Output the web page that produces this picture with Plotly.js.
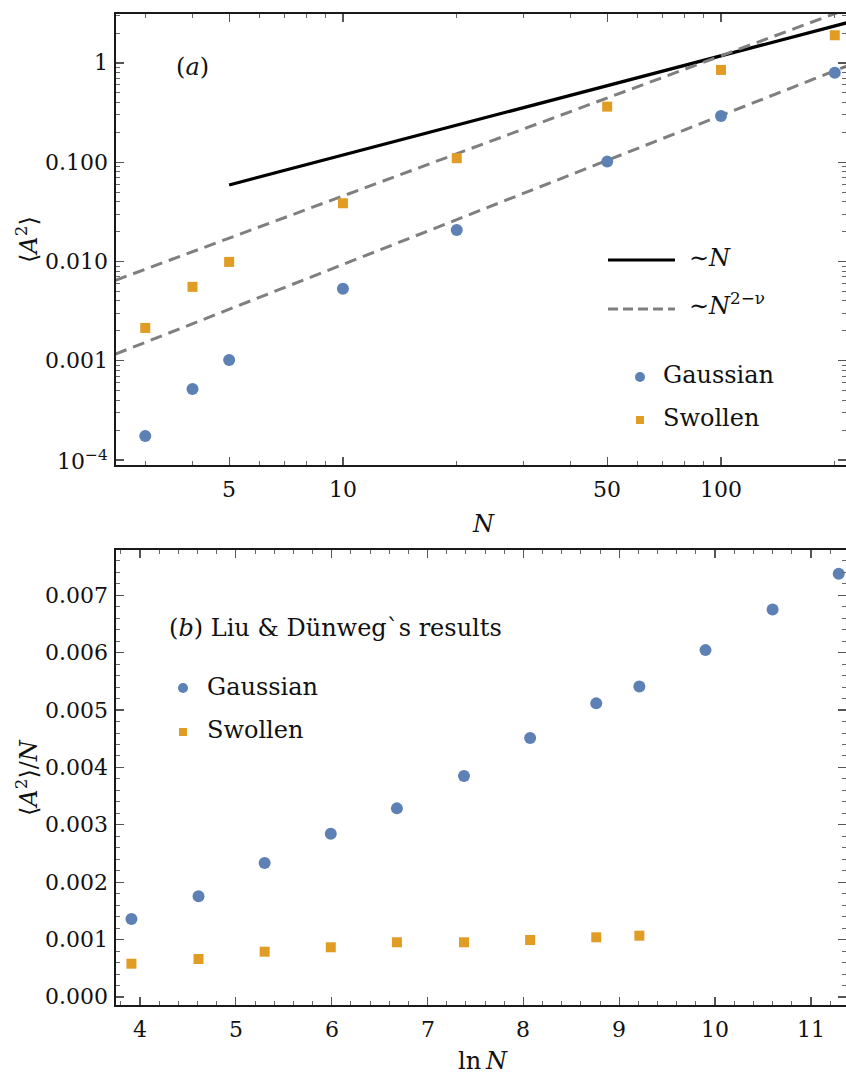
<!DOCTYPE html>
<html>
<head>
<meta charset="utf-8">
<script src="https://cdn.plot.ly/plotly-3.0.1.min.js"></script>
<style>
  html, body { margin: 0; padding: 0; background: #fff; }
  #chart { width: 846px; height: 1077px; }
</style>
</head>
<body>
<div id="chart"></div>
<script>
// ---- Panel (a): mean squared area versus chain length N ----
const chainN = [3, 4, 5, 10, 20, 50, 100, 200];
const gaussianA2 = [1.75e-4, 5.2e-4, 1.02e-3, 5.3e-3, 0.0208, 0.1014, 0.292, 0.798];
const swollenA2 = [2.14e-3, 5.55e-3, 9.9e-3, 0.0386, 0.1097, 0.363, 0.850, 1.90];

// guide lines: ~N and ~N^(2-nu), given by their end points
const linearGuideN = [5, 220];
const linearGuideA2 = [0.059, 2.596];
const swollenGuideN = [2.5, 220];
const swollenGuideA2 = [6.46e-3, 3.59];
const gaussGuideN = [2.5, 220];
const gaussGuideA2 = [1.166e-3, 0.963];

// ---- Panel (b): Liu & Duenweg results, <A^2>/N versus ln N ----
const lnN = [3.91, 4.61, 5.30, 5.99, 6.68, 7.38, 8.07, 8.76, 9.21, 9.90, 10.60, 11.29];
const gaussianPerN = [1.359e-3, 1.754e-3, 2.334e-3, 2.845e-3, 3.287e-3, 3.850e-3,
                      4.512e-3, 5.117e-3, 5.413e-3, 6.045e-3, 6.754e-3, 7.375e-3];
const lnNSwollen = [3.91, 4.61, 5.30, 5.99, 6.68, 7.38, 8.07, 8.76, 9.21];
const swollenPerN = [0.580e-3, 0.662e-3, 0.789e-3, 0.866e-3, 0.953e-3, 0.953e-3,
                     0.993e-3, 1.040e-3, 1.068e-3];

// tick values and labels
const topXTicks = [5, 10, 50, 100];
const topXTickText = ['5', '10', '50', '100'];
const topXMinor = [3, 4, 6, 7, 8, 9, 20, 30, 40, 60, 70, 80, 90, 200];
const topYTicks = [1e-4, 1e-3, 1e-2, 0.1, 1];
const topYTickText = ['10<sup>\u22124</sup>', '0.001', '0.010', '0.100', '1'];
const botXTicks = [4, 5, 6, 7, 8, 9, 10, 11];
const botXTickText = ['4', '5', '6', '7', '8', '9', '10', '11'];
const botYTicks = [0, 0.001, 0.002, 0.003, 0.004, 0.005, 0.006, 0.007];
const botYTickText = ['0.000', '0.001', '0.002', '0.003', '0.004', '0.005', '0.006', '0.007'];

// minor ticks on the log axis: 2..9 in every decade
const topYMinor = [];
[1e-4, 1e-3, 1e-2, 0.1, 1].forEach(d => {
  for (let k = 2; k <= 9; k++) topYMinor.push(k * d);
});

// ---- styles ----
const BLUE = '#5E81B5';
const ORANGE = '#E19C24';
const GREY = '#7f7f7f';
const SERIF = 'DejaVu Serif';
const TICKFONT = { family: SERIF, size: 22, color: '#111' };
const TEXTFONT = { family: SERIF, size: 24, color: '#111' };

// page geometry (pixels) -> paper fractions
const W = 846, H = 1077, ML = 116, MR = 0, MT = 14, MB = 72;
const PW = W - ML - MR, PH = H - MT - MB;
const px = x => (x - ML) / PW;
const py = y => (H - MB - y) / PH;

const traces = [
  { x: linearGuideN, y: linearGuideA2, xaxis: 'x', yaxis: 'y', mode: 'lines',
    line: { color: '#000', width: 3.2 }, hoverinfo: 'skip' },
  { x: swollenGuideN, y: swollenGuideA2, xaxis: 'x', yaxis: 'y', mode: 'lines',
    line: { color: GREY, width: 3, dash: '12px,7px' }, hoverinfo: 'skip' },
  { x: gaussGuideN, y: gaussGuideA2, xaxis: 'x', yaxis: 'y', mode: 'lines',
    line: { color: GREY, width: 3, dash: '12px,7px' }, hoverinfo: 'skip' },
  { x: chainN, y: swollenA2, xaxis: 'x', yaxis: 'y', mode: 'markers', name: 'Swollen',
    marker: { symbol: 'square', size: 10, color: ORANGE } },
  { x: chainN, y: gaussianA2, xaxis: 'x', yaxis: 'y', mode: 'markers', name: 'Gaussian',
    marker: { symbol: 'circle', size: 12, color: BLUE } },
  { x: lnN, y: gaussianPerN, xaxis: 'x2', yaxis: 'y2', mode: 'markers', name: 'Gaussian',
    marker: { symbol: 'circle', size: 12, color: BLUE } },
  { x: lnNSwollen, y: swollenPerN, xaxis: 'x2', yaxis: 'y2', mode: 'markers', name: 'Swollen',
    marker: { symbol: 'square', size: 10, color: ORANGE } }
];

function frameAxis(extra) {
  return Object.assign({
    showline: true, linecolor: '#1a1a1a', linewidth: 1.8, mirror: 'allticks',
    ticks: 'inside', ticklen: 8, tickwidth: 1.2, tickcolor: '#555',
    showgrid: false, zeroline: false, showticklabels: false
  }, extra);
}

const topDomain = [py(465), 1];
const botDomain = [0, py(550)];

// tick labels set in the serif face, placed at the tick values on each axis
const tickLabels = [];
topXTicks.forEach((v, i) => tickLabels.push({
  text: topXTickText[i], xref: 'x', x: Math.log10(v), yref: 'y domain', y: 0,
  xanchor: 'center', yanchor: 'middle', yshift: -24, showarrow: false, font: TICKFONT }));
topYTicks.forEach((v, i) => tickLabels.push({
  text: topYTickText[i], xref: 'x domain', x: 0, yref: 'y', y: Math.log10(v),
  xanchor: 'right', yanchor: 'middle', xshift: -6, showarrow: false, font: TICKFONT }));
botXTicks.forEach((v, i) => tickLabels.push({
  text: botXTickText[i], xref: 'x2', x: v, yref: 'y2 domain', y: 0,
  xanchor: 'center', yanchor: 'middle', yshift: -24, showarrow: false, font: TICKFONT }));
botYTicks.forEach((v, i) => tickLabels.push({
  text: botYTickText[i], xref: 'x2 domain', x: 0, yref: 'y2', y: v,
  xanchor: 'right', yanchor: 'middle', xshift: -6, showarrow: false, font: TICKFONT }));

// axis titles
const axisTitles = [
  { text: '<i>N</i>', xref: 'paper', yref: 'paper', x: px(483), y: py(524),
    xanchor: 'center', yanchor: 'middle', showarrow: false, font: TEXTFONT },
  { text: 'ln\u2009<i>N</i>', xref: 'paper', yref: 'paper', x: px(483), y: py(1061),
    xanchor: 'center', yanchor: 'middle', showarrow: false, font: TEXTFONT },
  { text: '\u27E8<i>A</i><sup>2</sup>\u27E9', xref: 'paper', yref: 'paper', x: px(27), y: py(240),
    textangle: -90, xanchor: 'center', yanchor: 'middle', showarrow: false, font: TEXTFONT },
  { text: '\u27E8<i>A</i><sup>2</sup>\u27E9/<i>N</i>', xref: 'paper', yref: 'paper', x: px(27), y: py(778),
    textangle: -90, xanchor: 'center', yanchor: 'middle', showarrow: false, font: TEXTFONT }
];

// panel captions and keys
const keyTexts = [
  { text: '(<i>a</i>)', x: 174, y: 67 },
  { text: '\u223C<i>N</i>', x: 687, y: 258 },
  { text: '\u223C<i>N</i><sup>2\u2212\u03BD</sup>', x: 687, y: 304 },
  { text: 'Gaussian', x: 661, y: 375 },
  { text: 'Swollen', x: 661, y: 418 },
  { text: '(<i>b</i>) Liu &amp; D\u00FCnweg`s results', x: 167, y: 628 },
  { text: 'Gaussian', x: 205, y: 687 },
  { text: 'Swollen', x: 205, y: 730 }
].map(t => ({ text: t.text, xref: 'paper', yref: 'paper', x: px(t.x), y: py(t.y),
  xanchor: 'left', yanchor: 'middle', showarrow: false, font: TEXTFONT }));

const layout = {
  width: W, height: H,
  margin: { l: ML, r: MR, t: MT, b: MB },
  paper_bgcolor: '#fff', plot_bgcolor: '#fff',
  font: { family: SERIF, size: 22, color: '#111' },
  showlegend: false,
  xaxis: frameAxis({
    type: 'log', range: [0.3997, 2.3307], domain: [0, 1], anchor: 'y',
    tickmode: 'array', tickvals: topXTicks,
    minor: { tickvals: topXMinor, ticks: 'inside', ticklen: 4, tickcolor: '#666', tickwidth: 1 }
  }),
  yaxis: frameAxis({
    type: 'log', range: [-4.05, 0.493], domain: topDomain, anchor: 'x',
    tickmode: 'array', tickvals: topYTicks,
    minor: { tickvals: topYMinor, ticks: 'inside', ticklen: 4, tickcolor: '#666', tickwidth: 1 }
  }),
  xaxis2: frameAxis({
    range: [3.749, 11.366], domain: [0, 1], anchor: 'y2',
    tickmode: 'array', tickvals: botXTicks,
    minor: { dtick: 0.2, tick0: 0, ticks: 'inside', ticklen: 4, tickcolor: '#666', tickwidth: 1 }
  }),
  yaxis2: frameAxis({
    range: [-0.00014, 0.00779], domain: botDomain, anchor: 'x2',
    tickmode: 'array', tickvals: botYTicks,
    minor: { dtick: 0.0002, tick0: 0, ticks: 'inside', ticklen: 4, tickcolor: '#666', tickwidth: 1 }
  }),
  shapes: [
    // panel (a) key
    { type: 'line', xref: 'paper', yref: 'paper', x0: px(608), x1: px(675), y0: py(260), y1: py(260),
      line: { color: '#000', width: 3.2 } },
    { type: 'line', xref: 'paper', yref: 'paper', x0: px(608), x1: px(675), y0: py(309), y1: py(309),
      line: { color: GREY, width: 3, dash: '10px,5px' } },
    { type: 'circle', xref: 'paper', yref: 'paper', xsizemode: 'pixel', ysizemode: 'pixel',
      xanchor: px(640), yanchor: py(377), x0: -5, x1: 5, y0: -5, y1: 5,
      fillcolor: BLUE, line: { width: 0 } },
    { type: 'rect', xref: 'paper', yref: 'paper', xsizemode: 'pixel', ysizemode: 'pixel',
      xanchor: px(640), yanchor: py(420), x0: -4, x1: 4, y0: -4, y1: 4,
      fillcolor: ORANGE, line: { width: 0 } },
    // panel (b) key
    { type: 'circle', xref: 'paper', yref: 'paper', xsizemode: 'pixel', ysizemode: 'pixel',
      xanchor: px(183), yanchor: py(688), x0: -5, x1: 5, y0: -5, y1: 5,
      fillcolor: BLUE, line: { width: 0 } },
    { type: 'rect', xref: 'paper', yref: 'paper', xsizemode: 'pixel', ysizemode: 'pixel',
      xanchor: px(183), yanchor: py(732), x0: -4, x1: 4, y0: -4, y1: 4,
      fillcolor: ORANGE, line: { width: 0 } }
  ],
  annotations: tickLabels.concat(axisTitles, keyTexts)
};

Plotly.newPlot('chart', traces, layout, { staticPlot: true, displayModeBar: false });
</script>
</body>
</html>
